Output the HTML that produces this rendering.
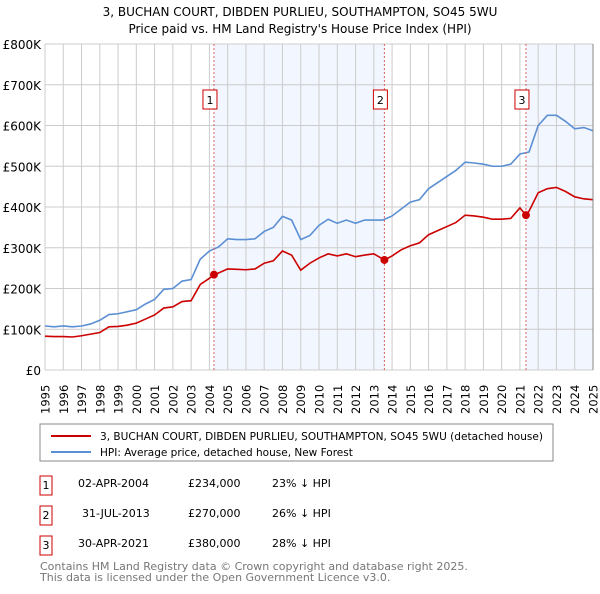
<!DOCTYPE html>
<html><head><meta charset="utf-8"><style>
body{margin:0;background:#fff;font-family:"DejaVu Sans","Liberation Sans",sans-serif;}
svg text{font-family:"DejaVu Sans","Liberation Sans",sans-serif;}
</style></head><body>
<svg id="chart" width="600" height="590" xmlns="http://www.w3.org/2000/svg">
<text x="300" y="16" text-anchor="middle" font-size="12">3, BUCHAN COURT, DIBDEN PURLIEU, SOUTHAMPTON, SO45 5WU</text>
<text x="300" y="33" text-anchor="middle" font-size="12">Price paid vs. HM Land Registry's House Price Index (HPI)</text>
<g id="shade"></g><g id="grid"></g><g id="lines"></g><g id="marks"></g><g id="axes"></g>
<rect x="40" y="424" width="513" height="37" fill="#fff" stroke="#888"/>
<line x1="51" y1="436" x2="91" y2="436" stroke="#cc0000" stroke-width="2"/>
<text x="100" y="440" font-size="10.5" textLength="443" lengthAdjust="spacingAndGlyphs">3, BUCHAN COURT, DIBDEN PURLIEU, SOUTHAMPTON, SO45 5WU (detached house)</text>
<line x1="51" y1="452" x2="91" y2="452" stroke="#5b8fd4" stroke-width="2"/>
<text x="100" y="456" font-size="10.5">HPI: Average price, detached house, New Forest</text>
<g font-size="11">
<rect x="40" y="476" width="12" height="19" fill="#fff" stroke="#cc0000"/><text x="46" y="489" text-anchor="middle">1</text>
<text x="78" y="487">02-APR-2004</text><text x="188" y="487">£234,000</text><text x="272" y="487">23% ↓ HPI</text>
<rect x="40" y="506" width="12" height="19" fill="#fff" stroke="#cc0000"/><text x="46" y="519" text-anchor="middle">2</text>
<text x="82" y="517">31-JUL-2013</text><text x="188" y="517">£270,000</text><text x="272" y="517">26% ↓ HPI</text>
<rect x="40" y="536" width="12" height="19" fill="#fff" stroke="#cc0000"/><text x="46" y="549" text-anchor="middle">3</text>
<text x="78" y="547">30-APR-2021</text><text x="188" y="547">£380,000</text><text x="272" y="547">28% ↓ HPI</text>
</g>
<text x="40" y="570" font-size="11" fill="#777">Contains HM Land Registry data © Crown copyright and database right 2025.</text>
<text x="40" y="581" font-size="11" fill="#777">This data is licensed under the Open Government Licence v3.0.</text>
</svg>
<script>
const hpiYears=[1995,1995.5,1996,1996.5,1997,1997.5,1998,1998.5,1999,1999.5,2000,2000.5,2001,2001.5,2002,2002.5,2003,2003.5,2004,2004.5,2005,2005.5,2006,2006.5,2007,2007.5,2008,2008.5,2009,2009.5,2010,2010.5,2011,2011.5,2012,2012.5,2013,2013.5,2014,2014.5,2015,2015.5,2016,2016.5,2017,2017.5,2018,2018.5,2019,2019.5,2020,2020.5,2021,2021.5,2022,2022.5,2023,2023.5,2024,2024.5,2025];
const hpiValues=[108,106,108,106,108,113,122,136,138,143,148,162,173,198,200,218,222,272,292,302,322,320,320,322,340,350,377,368,320,330,355,370,360,368,360,368,368,368,378,395,412,418,445,460,475,490,510,508,505,500,500,505,530,535,600,625,625,610,592,595,587];
const priceYears=[1995,1995.5,1996,1996.5,1997,1997.5,1998,1998.5,1999,1999.5,2000,2000.5,2001,2001.5,2002,2002.5,2003,2003.5,2004,2004.25,2004.5,2005,2005.5,2006,2006.5,2007,2007.5,2008,2008.5,2009,2009.5,2010,2010.5,2011,2011.5,2012,2012.5,2013,2013.58,2014,2014.5,2015,2015.5,2016,2016.5,2017,2017.5,2018,2018.5,2019,2019.5,2020,2020.5,2021,2021.33,2021.5,2022,2022.5,2023,2023.5,2024,2024.5,2025];
const priceValues=[83,82,82,81,84,88,92,106,107,110,115,125,135,152,155,168,170,210,225,234,238,248,247,246,248,262,268,292,282,245,262,275,285,280,285,278,282,285,270,280,295,305,312,332,342,352,362,380,378,375,370,370,372,398,380,390,435,445,448,438,425,420,418];
const saleYears=[2004.25,2013.58,2021.33];
const saleValues=[234,270,380];
const saleLabels=["1","2","3"];
const yTicks=[0,100,200,300,400,500,600,700,800];
const yTickLabels=["£0","£100K","£200K","£300K","£400K","£500K","£600K","£700K","£800K"];
const xTicks=[1995,1996,1997,1998,1999,2000,2001,2002,2003,2004,2005,2006,2007,2008,2009,2010,2011,2012,2013,2014,2015,2016,2017,2018,2019,2020,2021,2022,2023,2024,2025];

const L=45,R=593,T=44,B=370;
const x=y=>L+(y-1995)/30*(R-L);
const yy=v=>B-v/800*(B-T);
const NS="http://www.w3.org/2000/svg";
function mk(tag,attrs,parent){const e=document.createElementNS(NS,tag);for(const k in attrs)e.setAttribute(k,attrs[k]);document.getElementById(parent).appendChild(e);return e;}

let s=mk('rect',{x:x(saleYears[0]),y:T,width:x(saleYears[1])-x(saleYears[0]),height:B-T,fill:'#eef3fd',opacity:0.75},'shade');


s=mk('rect',{x:x(saleYears[2]),y:T,width:R-x(saleYears[2]),height:B-T,fill:'#eef3fd',opacity:0.75},'shade');



yTicks.forEach((v,i)=>{
 let g=mk('line',{x1:L,x2:R,y1:yy(v),y2:yy(v),stroke:'#ccc'},'grid');
 
 
 let t=mk('text',{x:L-4,y:yy(v)+5,'text-anchor':'end','font-size':12},'axes');
 t.textContent=yTickLabels[i];
 
 
});
xTicks.forEach(yr=>{
 let g=mk('line',{x1:x(yr),x2:x(yr),y1:T,y2:B,stroke:'#ccc'},'grid');
 
 
 let t=mk('text',{x:0,y:0,'font-size':11.5,transform:`translate(${x(yr)+4.5},${B+44}) rotate(-90)`},'axes');
 t.textContent=yr;
 
 
});
let hp=mk('polyline',{points:hpiYears.map((yr,i)=>x(yr)+','+yy(hpiValues[i])).join(' '),fill:'none',stroke:'#5b8fd4','stroke-width':1.6},'lines');


let pp=mk('polyline',{points:priceYears.map((yr,i)=>x(yr)+','+yy(priceValues[i])).join(' '),fill:'none',stroke:'#cc0000','stroke-width':1.6},'lines');


saleYears.forEach((yr,i)=>{
 let l=mk('line',{x1:x(yr),x2:x(yr),y1:T,y2:B,stroke:'#e06060','stroke-dasharray':'2,2'},'marks');
 
 
 let c=mk('circle',{cx:x(yr),cy:yy(saleValues[i]),r:4,fill:'#cc0000'},'marks');
 
 
 let r=mk('rect',{x:x(yr)-11,y:90,width:14,height:19,fill:'#fff',stroke:'#cc0000'},'marks');
 
 
 let t=mk('text',{x:x(yr)-4,y:104,'text-anchor':'middle','font-size':11},'marks');
 t.textContent=saleLabels[i];
 
 
});
let ax=mk('line',{x1:R,x2:R,y1:T,y2:B,stroke:'#888'},'axes');


</script>
</body></html>
